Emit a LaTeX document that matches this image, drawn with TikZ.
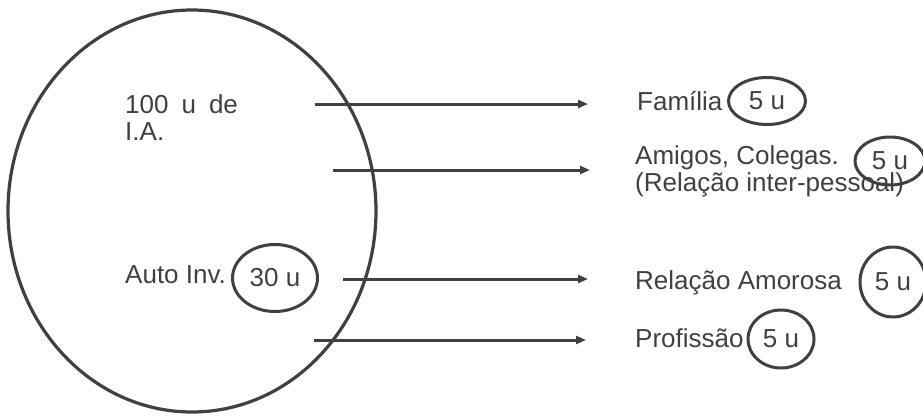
\documentclass[tikz,border=0pt]{standalone}
\usepackage{fontspec}
\setmainfont{Liberation Sans}
\usepackage{xcolor}
\usetikzlibrary{shapes.geometric,arrows.meta}

\definecolor{ink}{HTML}{404040}

\begin{document}
\begin{tikzpicture}[
  x=1pt, y=-1pt,
  txt/.style={font=\fontsize{26}{27}\selectfont, text=ink, inner sep=0pt, anchor=base west, align=left},
  unit/.style={draw=ink, ellipse, line width=3pt, inner sep=0pt, font=\fontsize{26}{27}\selectfont, text=ink},
  arr/.style={-{Triangle[length=10pt,width=8pt]}, line width=3pt, draw=ink},
  >=stealth
]
\useasboundingbox (0,0) rectangle (923,418);

% ── Big ellipse ──────────────────────────────────────────────
\node[draw=ink, ellipse, line width=3.2pt, minimum width=368pt, minimum height=402pt] (ia) at (192,211) {};

% base of a two-line node sits on its last line
\node[txt] (total) at (125,140) {100\enspace u\enspace de\\I.A.};
\node[txt] (auto)  at (125,283) {Auto Inv.};
\node[unit, minimum width=85pt, minimum height=67pt] (auto_u) at (275,278) {30 u};

% ── Targets (right) ──────────────────────────────────────────
\node[txt] (fam)  at (637,110) {Família};
\node[unit, minimum width=77pt, minimum height=47pt] (fam_u) at (767,101) {5 u};

\node[txt] (amg)  at (635,191) {Amigos, Colegas.\\(Relação inter-pessoal)};
\node[unit, minimum width=70pt, minimum height=48pt] (amg_u) at (890,161) {5 u};

\node[txt] (amr)  at (635,289) {Relação Amorosa};
\node[unit, minimum width=66pt, minimum height=70pt] (amr_u) at (893,282) {5 u};

\node[txt] (prof) at (635,347) {Profissão};
\node[unit, minimum width=66pt, minimum height=58pt] (prof_u) at (781,339) {5 u};

% ── Arrows ───────────────────────────────────────────────────
\coordinate (fam_s)  at (315,104);  \coordinate (fam_e)  at (588,104);
\coordinate (amg_s)  at (333,170);  \coordinate (amg_e)  at (590,170);
\coordinate (amr_s)  at (343,279);  \coordinate (amr_e)  at (588,279);
\coordinate (prof_s) at (314,340);  \coordinate (prof_e) at (586,340);

\draw[arr] (fam_s)  -- (fam_e);
\draw[arr] (amg_s)  -- (amg_e);
\draw[arr] (amr_s)  -- (amr_e);
\draw[arr] (prof_s) -- (prof_e);

\end{tikzpicture}
\end{document}
